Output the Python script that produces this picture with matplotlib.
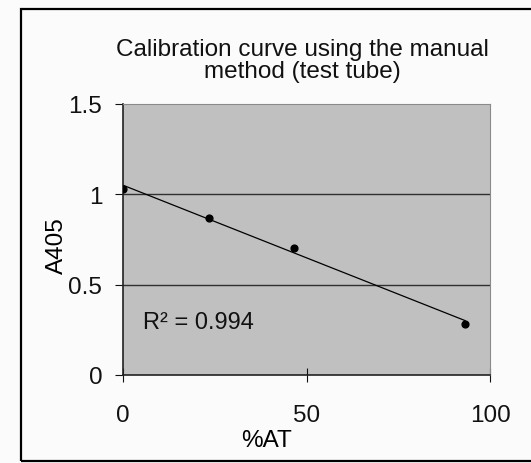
import numpy as np
import matplotlib.pyplot as plt
from matplotlib.patches import Rectangle

# Calibration data
pct_at = [0.0, 23.5, 46.5, 93.2]
a405 = [1.03, 0.87, 0.705, 0.285]
r2_label = "R\u00b2 = 0.994"

x_ticks = [0, 50, 100]
y_ticks = [0, 0.5, 1, 1.5]
y_ticklabels = ["0", "0.5", "1", "1.5"]

W, H = 531, 464
fig = plt.figure(figsize=(W / 100, H / 100), dpi=100)
fig.patch.set_facecolor("#fbfbfb")
plt.rcParams['font.family'] = ['Liberation Sans', 'DejaVu Sans']

# outer chart frame
fig.patches.append(Rectangle((21 / W, 1 - 462 / H), 520 / W, 452 / H,
                             transform=fig.transFigure, fill=False,
                             edgecolor="black", linewidth=1.6))

ax = fig.add_axes([123 / W, 1 - 376 / H, 367 / W, 271 / H])
ax.set_facecolor("#c0c0c0")
ax.set_xlim(0, 100)
ax.set_ylim(0, 1.5)

# grid lines
for yv in [0.5, 1.0]:
    ax.axhline(yv, color="#303030", linewidth=1.0, zorder=1)

# linear trendline
slope, intercept = np.polyfit(pct_at, a405, 1)
xs = np.array([pct_at[0], pct_at[-1]])
ax.plot(xs, slope * xs + intercept, color="black", linewidth=0.9, zorder=2)
ax.scatter(pct_at, a405, s=24, color="black", zorder=3)

ax.text(0.055, 0.195, r2_label, transform=ax.transAxes, fontsize=17,
        color="#111111", va="center", ha="left")

for side in ["top", "right"]:
    ax.spines[side].set_color("#8a8a8a")
    ax.spines[side].set_linewidth(0.8)
for side in ["left", "bottom"]:
    ax.spines[side].set_color("#222222")
    ax.spines[side].set_linewidth(1.2)

ax.set_xticks(x_ticks)
ax.set_yticks(y_ticks)
ax.set_yticklabels(y_ticklabels)
ax.tick_params(axis="x", direction="inout", length=10, pad=16, labelsize=17.5,
               colors="#111111")
ax.tick_params(axis="y", direction="out", length=6, pad=9, labelsize=17.5,
               colors="#111111")

ax.set_xlabel("%AT", fontsize=17.5)
ax.xaxis.set_label_coords(0.392, -0.20)
ax.set_ylabel("A405", fontsize=17.5)
ax.yaxis.set_label_coords(-0.15, 0.48)

fig.text(302 / W, 1 - 61 / H, "Calibration curve using the manual\nmethod (test tube)",
         ha="center", va="center", fontsize=17.5, linespacing=1.05, color="#111111")

fig.savefig("out.png", dpi=100, facecolor=fig.get_facecolor())
